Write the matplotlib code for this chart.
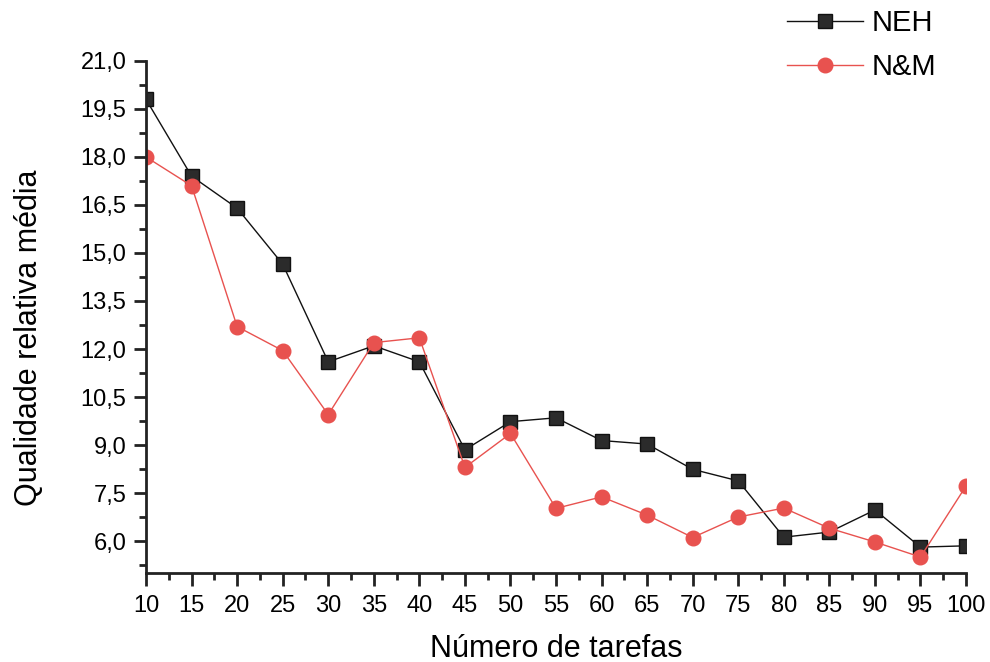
import matplotlib
matplotlib.use("Agg")
import matplotlib.pyplot as plt
from matplotlib.ticker import MultipleLocator, FuncFormatter

plt.rcParams['font.family'] = ['Liberation Sans', 'DejaVu Sans']

# Number of tasks
tarefas = [10, 15, 20, 25, 30, 35, 40, 45, 50, 55, 60, 65, 70, 75, 80, 85, 90, 95, 100]

# Average relative quality per heuristic
neh = [19.8, 17.4, 16.4, 14.65, 11.6, 12.1, 11.6, 8.85, 9.73, 9.85, 9.14, 9.03, 8.24,
       7.88, 6.12, 6.28, 6.97, 5.81, 5.85]
nm = [18.0, 17.1, 12.7, 11.95, 9.95, 12.2, 12.35, 8.3, 9.36, 7.02, 7.38, 6.81, 6.11,
      6.75, 7.03, 6.4, 5.97, 5.5, 7.72]

fig = plt.figure(figsize=(9.9, 6.62), dpi=100)
ax = fig.add_axes([0.1475, 0.1344, 0.8283, 0.7735])

ax.plot(tarefas, neh, '-s', color='#111111', markerfacecolor='#2b2b2b',
        markeredgecolor='#111111', linewidth=1.0, markersize=9.5, label='NEH')
ax.plot(tarefas, nm, '-o', color='#e8524f', markerfacecolor='#e8524f',
        markeredgecolor='#e8524f', linewidth=1.0, markersize=10.5, label='N&M')

ax.set_xlim(10, 100)
ax.set_ylim(5.0, 21.0)
ax.set_xticks(tarefas)
ax.xaxis.set_minor_locator(MultipleLocator(2.5))
ax.yaxis.set_major_locator(MultipleLocator(1.5))
ax.yaxis.set_minor_locator(MultipleLocator(0.75))
ax.yaxis.set_major_formatter(FuncFormatter(lambda v, p: f'{v:.1f}'.replace('.', ',')))

for s in ['top', 'right']:
    ax.spines[s].set_visible(False)
for s in ['left', 'bottom']:
    ax.spines[s].set_linewidth(2.0)
    ax.spines[s].set_color('#222222')

ax.tick_params(which='major', direction='out', length=9, width=2, labelsize=17, color='#222222')
ax.tick_params(which='minor', direction='out', length=5, width=2, color='#222222')
ax.tick_params(axis='x', pad=7)
ax.tick_params(axis='y', pad=5)

ax.set_xlabel('Número de tarefas', fontsize=22, labelpad=12)
ax.set_ylabel('Qualidade relativa média', fontsize=22)
ax.yaxis.set_label_coords(-0.124, 0.46)

leg = ax.legend(loc='upper left', bbox_to_anchor=(0.75, 1.153), frameon=False,
                fontsize=21, handlelength=2.6, handletextpad=0.3, labelspacing=0.55)

fig.savefig('out.png', dpi=100)
